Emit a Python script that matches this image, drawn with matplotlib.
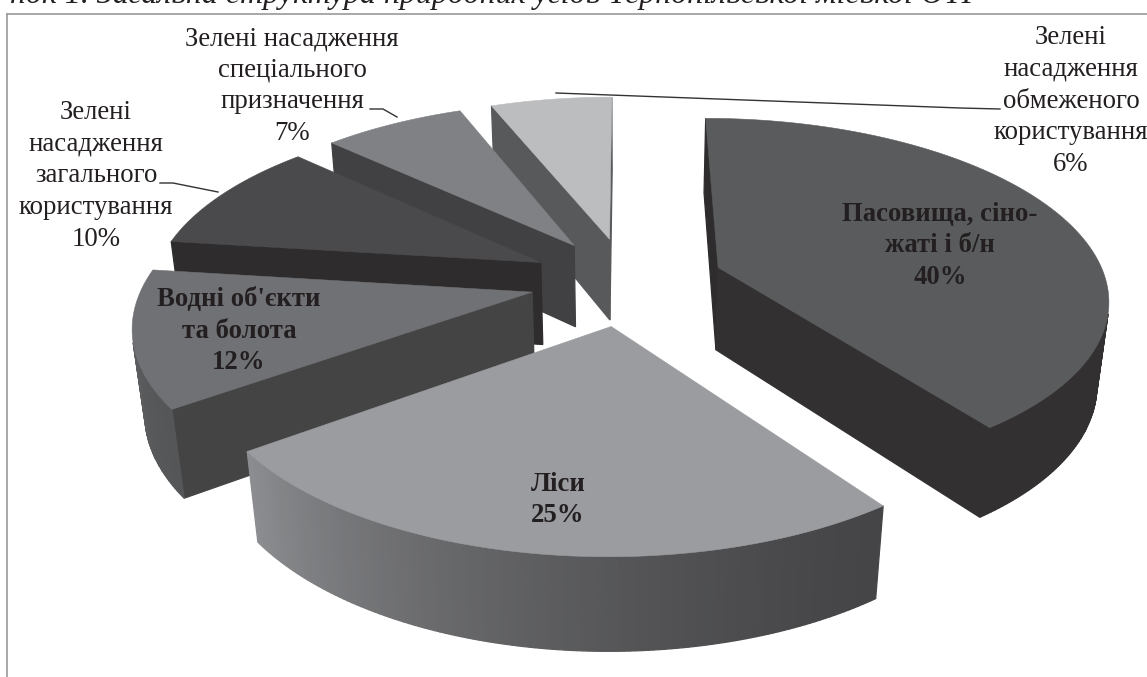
import numpy as np
import matplotlib
matplotlib.use('Agg')
import matplotlib.pyplot as plt
from matplotlib.patches import Polygon

plt.rcParams['font.family'] = ['Liberation Serif', 'DejaVu Serif']

# land categories, clockwise from twelve o'clock
categories = [
    'Пасовища, сіно-\nжаті і б/н',
    'Ліси',
    "Водні об'єкти\nта болота",
    'Зелені\nнасадження\nзагального\nкористування',
    'Зелені насадження\nспеціального\nпризначення',
    'Зелені\nнасадження\nобмеженого\nкористування',
]
shares = [40, 25, 12, 10, 7, 6]

top_colors = ['#5a5b5d', '#9b9c9f', '#707174', '#4a4a4c', '#808184', '#bcbdbf']
start_wall = ['#2e2c2d', '#58595b', '#444445', '#2e2c2d', '#414042', '#58595b']
end_wall = ['#323031', '#58595b', '#444445', '#2e2c2d', '#414042', '#58595b']
arc_from = ['#323031', '#454547', '#555658', '#2e2c2d', '#414042', '#58595b']
arc_to = ['#323031', '#8c8d90', '#6b6c6e', '#2e2c2d', '#414042', '#58595b']
draw_order = [5, 4, 3, 2, 1, 0]

label_pos = [(940, 246), (558, 500), (239, 331), (96, 176), (292, 86), (1071, 101)]
label_bold = [True, True, True, False, False, False]

# camera for the tilted pie
CX, CY = 627, 281
SCALE_X, SCALE_Y = 388, 177
PERSP = 0.16
EXPLODE = 0.25
DEPTH = 85
DEPTH_PERSP = 0.025


def project(x, y, bottom=False):
    w = 1 - PERSP * y + (DEPTH_PERSP if bottom else 0)
    drop = DEPTH if bottom else 0
    return CX + SCALE_X * x / w, CY + (SCALE_Y * y + drop) / w


def shade(c0, c1, t):
    a = np.array(matplotlib.colors.to_rgb(c0))
    b = np.array(matplotlib.colors.to_rgb(c1))
    return a + (b - a) * t ** 1.5


def area(pts):
    x, y = np.array(pts).T
    return np.sum(x * np.roll(y, -1) - np.roll(x, -1) * y)


def draw_wall(ax, a, b, color, z):
    pts = [project(*a), project(*b), project(*b, bottom=True), project(*a, bottom=True)]
    # only walls turned towards the camera
    if area(pts) < 0:
        ax.add_patch(Polygon(pts, closed=True, fc=color, ec=color, lw=0.9, zorder=z))


fig = plt.figure(figsize=(11.47, 6.77), dpi=100)
ax = fig.add_axes([0, 0, 1, 1])
ax.set_xlim(0, 1147)
ax.set_ylim(677, 0)
ax.axis('off')

edges = np.cumsum([0] + shares) / sum(shares) * 2 * np.pi

for i in draw_order:
    t0, t1 = edges[i], edges[i + 1]
    mid = (t0 + t1) / 2
    apex = (EXPLODE * np.sin(mid), -EXPLODE * np.cos(mid))
    theta = np.linspace(t0, t1, max(int(shares[i] * 5), 12))
    rim = [(apex[0] + np.sin(t), apex[1] - np.cos(t)) for t in theta]
    z = 2 + draw_order.index(i)

    draw_wall(ax, apex, rim[0], start_wall[i], z)
    draw_wall(ax, rim[-1], apex, end_wall[i], z)
    for k in range(len(rim) - 1):
        draw_wall(ax, rim[k], rim[k + 1], shade(arc_from[i], arc_to[i], k / (len(rim) - 2)), z)

    outline = [project(*apex)] + [project(*p) for p in rim]
    ax.add_patch(Polygon(outline, closed=True, fc=top_colors[i], ec=top_colors[i], lw=0.4, zorder=z))

# labels with their shares
for i, name in enumerate(categories):
    ax.text(label_pos[i][0], label_pos[i][1], f'{name}\n{shares[i]}%',
            ha='center', va='center', fontsize=19.3,
            fontweight='bold' if label_bold[i] else 'normal', color='#231f20',
            linespacing=1.35, zorder=20)

# leader lines
ax.plot([556, 960, 1000], [93, 108, 109], color='#333333', lw=1.0, zorder=15)
ax.plot([218, 173, 160], [192, 183, 183], color='#333333', lw=1.0, zorder=15)
ax.plot([397, 383, 370], [117, 109, 109], color='#333333', lw=1.0, zorder=15)

# chart frame and the caption above it
ax.plot([7, 7], [677, 14], color='#9a9a9a', lw=1.2, zorder=1)
ax.plot([7, 1147], [14, 14], color='#9a9a9a', lw=1.2, zorder=1)
ax.text(10, 2.5, 'нок 1. Загальна структура природних угідь Тернопільської міської ОТГ',
        fontsize=23, style='italic', color='#231f20', ha='left', va='baseline')

fig.savefig('out.png', dpi=100)
